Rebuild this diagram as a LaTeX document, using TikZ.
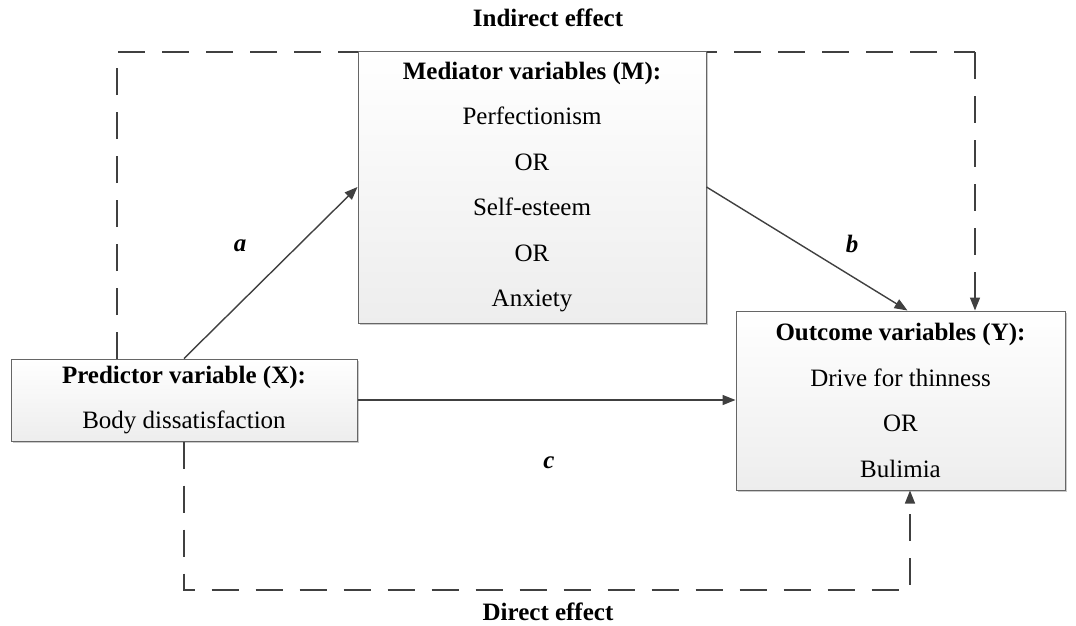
\documentclass[tikz,border=0pt]{standalone}
\usepackage{fontspec}
\setmainfont{Liberation Serif}
\usetikzlibrary{arrows.meta,shadows,calc}
\begin{document}
\begin{tikzpicture}[x=1pt,y=-1pt,
  box/.style={draw=black!60, line width=1pt, top color=white, bottom color=black!7,
    drop shadow={shadow xshift=2pt, shadow yshift=-2pt, fill=black!35, opacity=0.6},
    align=center, font=\fontsize{25}{45.5}\selectfont, inner sep=0pt},
  conn/.style={draw=black!75, line width=1.4pt, -{Triangle[length=13pt,width=10pt]}},
  dconn/.style={conn, dash pattern=on 27pt off 17pt},
  lbl/.style={font=\fontsize{25}{30}\selectfont\bfseries\itshape},
  ttl/.style={font=\fontsize{25}{30}\selectfont\bfseries}]
\useasboundingbox (0,0) rectangle (1076,625);
\coordinate (it1) at (117,52);
\coordinate (it2) at (975,52);
\coordinate (dt1) at (184,590);
\coordinate (dt2) at (910,590);
% dashed paths drawn first
\draw[dconn, -] (117,359) -- (it1) -- (it2);
\node[box, minimum width=346pt, minimum height=82pt] (X) at (184,400)
  {\textbf{Predictor variable (X):}\\Body dissatisfaction};
\node[box, minimum width=348pt, minimum height=272pt] (M) at (532,187)
  {\textbf{Mediator variables (M):}\\Perfectionism\\OR\\Self-esteem\\OR\\Anxiety};
\node[box, minimum width=329pt, minimum height=179pt] (Y) at (900.5,400.5)
  {\textbf{Outcome variables (Y):}\\Drive for thinness\\OR\\Bulimia};
\draw[dconn] (it2) -- (it2 |- Y.north);
\draw[dconn] (X.south) -- (dt1) -- (dt2) -- (dt2 |- Y.south);
\draw[conn] (X.north) -- (M.west);
\draw[conn] (M.east) -- ([xshift=7pt]Y.north);
\draw[conn] (X.east) -- (Y.west |- X.east);
\node[lbl] (la) at (240,246) {a};
\node[lbl] (lb) at (852,244) {b};
\node[lbl] (lc) at (549,463) {c};
\node[ttl] (ti) at (548,18) {Indirect effect};
\node[ttl] (td) at (548,612) {Direct effect};
\end{tikzpicture}
\end{document}
